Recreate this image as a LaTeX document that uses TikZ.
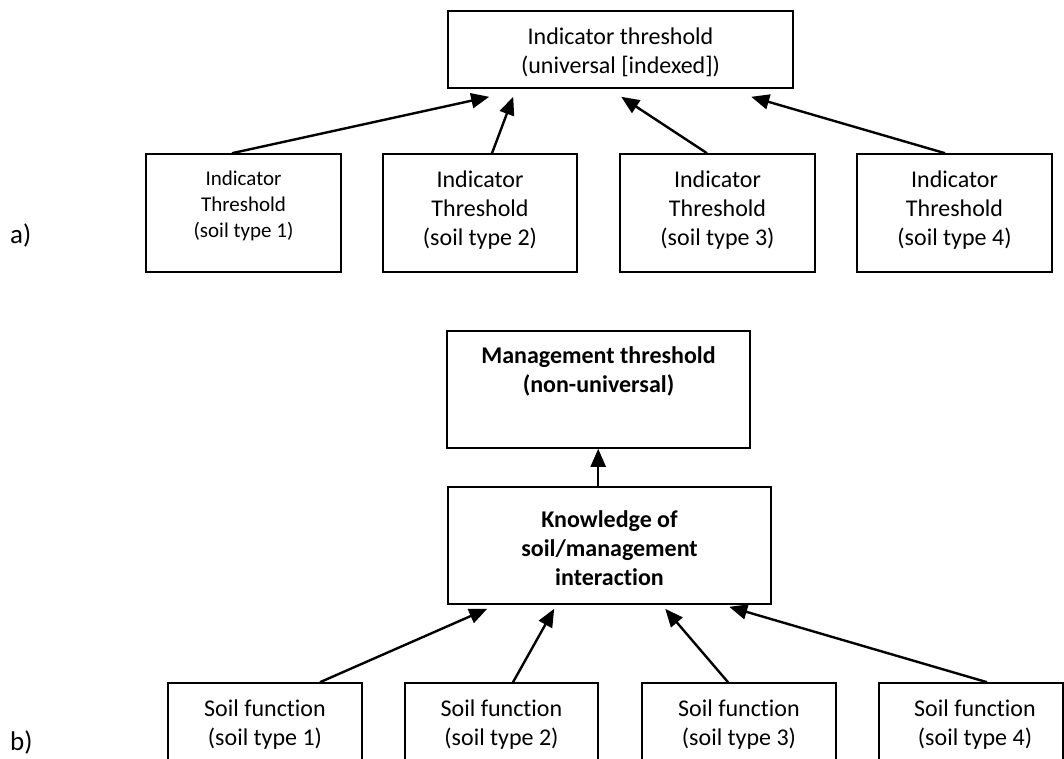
\documentclass[tikz,border=0pt]{standalone}
\usepackage{fontspec}
\setmainfont[Ligatures={NoCommon}]{Carlito}
\usetikzlibrary{arrows.meta,calc}
\begin{document}
\begin{tikzpicture}[x=1pt,y=-1pt,
  box/.style={draw=black, line width=1.6pt, rectangle, inner sep=0pt},
  txt/.style={inner sep=0pt, align=center, anchor=north, font=\fontsize{24}{29.3}\selectfont},
  btxt/.style={txt, font=\fontsize{24}{29.3}\selectfont\bfseries},
  stxt/.style={txt, font=\fontsize{21}{25.6}\selectfont},
  arr/.style={-{Triangle[length=18pt,width=15pt]}, line width=2.4pt},
  lbl/.style={inner sep=0pt, anchor=base west, font=\fontsize{27}{33}\selectfont}]
\useasboundingbox (0,0) rectangle (1064,758);
\clip (0,0) rectangle (1064,758);

% ---------- a) ----------
\node[lbl] (la) at (10,243) {a)};
\node[box, minimum width=345pt, minimum height=77pt,
  label={[txt, yshift=-17pt]north:{Indicator threshold\\(universal [indexed])}}] (ind) at (620.5,49.5) {};

\node[box, minimum width=195pt, minimum height=118pt,
  label={[stxt, yshift=-18pt]north:{Indicator\\Threshold\\(soil type 1)}}] (a1) at (243.5,213) {};
\node[box, minimum width=194pt, minimum height=118pt,
  label={[txt, yshift=-17pt]north:{Indicator\\Threshold\\(soil type 2)}}] (a2) at (480,213) {};
\node[box, minimum width=195pt, minimum height=118pt,
  label={[txt, yshift=-17pt]north:{Indicator\\Threshold\\(soil type 3)}}] (a3) at (717.5,213) {};
\node[box, minimum width=195pt, minimum height=118pt,
  label={[txt, yshift=-17pt]north:{Indicator\\Threshold\\(soil type 4)}}] (a4) at (954.5,213) {};

\draw[arr] ($(a1.north)+(-11.5,0)$) -- ($(ind.south west)+(42,8)$);
\draw[arr] ($(a2.north)+(12,0)$) -- ($(ind.south west)+(66,8)$);
\draw[arr] ($(a3.north)+(-10.5,0)$) -- ($(ind.south west)+(174,8)$);
\draw[arr] ($(a4.north)+(-9.5,0)$) -- ($(ind.south west)+(304,8)$);

% ---------- b) ----------
\node[lbl] (lb) at (10,750) {b)};
\node[box, minimum width=303pt, minimum height=117pt,
  label={[btxt, yshift=-16pt]north:{Management threshold\\(non-universal)}}] (mgmt) at (598.5,389.5) {};
\node[box, minimum width=323pt, minimum height=117pt,
  label={[btxt, yshift=-24pt]north:{Knowledge of\\soil/management\\interaction}}] (know) at (609.5,545.5) {};

\draw[arr] ($(know.north west)+(151,0)$) -- ($(mgmt.south west)+(152,0)$);

\node[box, minimum width=194pt, minimum height=120pt,
  label={[txt, yshift=-17pt]north:{Soil function\\(soil type 1)}}] (b1) at (265,743) {};
\node[box, minimum width=193pt, minimum height=120pt,
  label={[txt, yshift=-17pt]north:{Soil function\\(soil type 2)}}] (b2) at (501.5,743) {};
\node[box, minimum width=194pt, minimum height=120pt,
  label={[txt, yshift=-17pt]north:{Soil function\\(soil type 3)}}] (b3) at (739,743) {};
\node[box, minimum width=184pt, minimum height=120pt,
  label={[txt, yshift=-17pt, xshift=4pt]north:{Soil function\\(soil type 4)}}] (b4) at (971,743) {};

\draw[arr] ($(b1.north)+(55,0)$) -- ($(know.south west)+(40,4)$);
\draw[arr] ($(b2.north)+(11.5,0)$) -- ($(know.south west)+(107,4)$);
\draw[arr] ($(b3.north)+(-11,0)$) -- ($(know.south west)+(218,4)$);
\draw[arr] ($(b4.north)+(16,0)$) -- ($(know.south west)+(282,2)$);
\end{tikzpicture}
\end{document}
